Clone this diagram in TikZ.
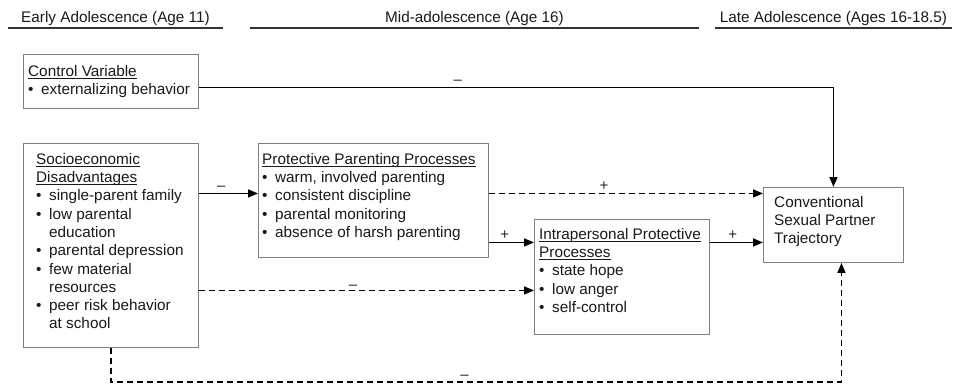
\documentclass[tikz,border=0pt]{standalone}
\usepackage{fontspec}
\setmainfont{Liberation Sans}
\usetikzlibrary{arrows.meta}

\newlength{\ulw}
\newcommand{\ul}[1]{\settowidth{\ulw}{#1}\makebox[0pt][l]{\rule[-2.6pt]{\ulw}{0.8pt}}#1}
\newcommand{\bul}{\makebox[13pt][l]{\textbullet}}
\newcommand{\ind}{\hspace*{13pt}}

\begin{document}
\begin{tikzpicture}[
        x=1pt, y=-1pt,
        >={Triangle[length=10pt, width=8pt]},
        box/.style={draw=black!50, line width=0.9pt, inner sep=0pt, anchor=north west},
        txt/.style={anchor=north west, inner sep=0pt, align=left, text=black!90, font=\fontsize{15.3}{18.3}\selectfont},
        head/.style={anchor=base, inner sep=0pt, text=black!90, font=\fontsize{15.3}{18.3}\selectfont},
        rule/.style={line width=1.5pt, black!80},
        arr/.style={->, line width=1.5pt},
        dasharr/.style={->, line width=1.5pt, dash pattern=on 6pt off 4pt},
        sign/.style={above, inner sep=2pt, text=black!85, font=\fontsize{15}{15}\selectfont}
    ]
        \useasboundingbox (0,0) rectangle (955,388);

        % Time periods
        \node[head] (early) at (115.5,23) {Early Adolescence (Age 11)};
        \node[head] (mid) at (474.5,23) {Mid-adolescence (Age 16)};
        \node[head] (late) at (833.5,23) {Late Adolescence (Ages 16-18.5)};
        \draw[rule] (8,28) -- (223,28);
        \draw[rule] (250,28) -- (699,28);
        \draw[rule] (715,28) -- (952,28);

        % Boxes
        \node[box, minimum width=175pt, minimum height=54pt] (ctrl) at (23,54) {};
        \node[txt] (ctrl-t) at (28,65) {\ul{Control Variable}\\\bul externalizing behavior};

        \node[box, minimum width=175pt, minimum height=204pt] (socio) at (23,143) {};
        \node[txt] (socio-t) at (36,153) {\ul{Socioeconomic}\\\ul{Disadvantages}\\
            \bul single-parent family\\\bul low parental\\\ind education\\
            \bul parental depression\\\bul few material\\\ind resources\\
            \bul peer risk behavior\\\ind at school};

        \node[box, minimum width=230pt, minimum height=114pt] (prot) at (258,143) {};
        \node[txt] (prot-t) at (262,153) {\ul{Protective Parenting Processes}\\
            \bul warm, involved parenting\\\bul consistent discipline\\
            \bul parental monitoring\\\bul absence of harsh parenting};

        \node[box, minimum width=175pt, minimum height=115pt] (intra) at (534,219) {};
        \node[txt] (intra-t) at (539,228) {\ul{Intrapersonal Protective}\\\ul{Processes}\\
            \bul state hope\\\bul low anger\\\bul self-control};

        \node[box, minimum width=140pt, minimum height=75pt] (outc) at (763,187) {};
        \node[txt] (outc-t) at (774,196) {Conventional\\Sexual Partner\\Trajectory};

        % Paths
        \draw[arr] ([yshift=-6pt]ctrl.east) -| node[sign, pos=0.204] {--} (outc.north);
        \draw[arr] ([yshift=52pt]socio.east) -- node[sign, pos=0.38] {--} ([yshift=7pt]prot.west);
        \draw[dasharr] ([yshift=7pt]prot.east) -- node[sign, pos=0.42] {+} ([yshift=31.5pt]outc.west);
        \draw[arr] ([yshift=-42pt]prot.east) -- node[sign, pos=0.35] {+} ([yshift=34.5pt]intra.west);
        \draw[arr] ([yshift=34.5pt]intra.east) -- node[sign, pos=0.43] {+} ([yshift=-17.5pt]outc.west);
        \draw[dasharr] ([yshift=-45pt]socio.east) -- node[sign, pos=0.46, inner sep=0pt] {--} ([yshift=-13.5pt]intra.west);
        \draw[dasharr] (socio.south) -- ++(0,34) -| node[sign, pos=0.242] {--} ([xshift=8pt]outc.south);
    \end{tikzpicture}
\end{document}
